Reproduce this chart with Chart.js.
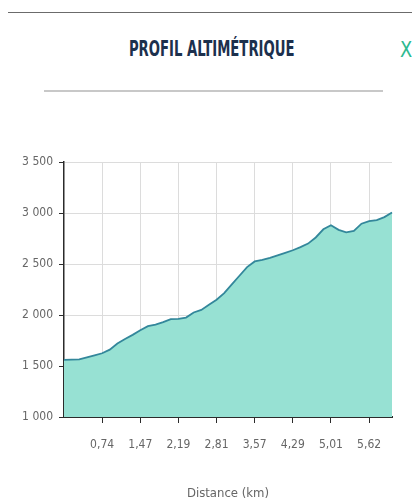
<!DOCTYPE html>
<html lang="fr">
<head>
<meta charset="utf-8">
<title>Profil altimétrique</title>
<script src="https://cdn.jsdelivr.net/npm/chart.js@4/dist/chart.umd.min.js"></script>
<style>
  html, body { margin: 0; padding: 0; background: #fff; }
  body { width: 412px; height: 504px; position: relative; overflow: hidden; }
  .topline { position: absolute; left: 8px; right: 0; top: 12px; height: 1px; background: #6b6b6b; }
  .titre {
    position: absolute; left: 0; width: 424px; top: 37px; text-align: center;
    font-family: "DejaVu Sans Condensed", "DejaVu Sans", sans-serif;
    font-weight: bold; font-size: 21px; color: #1c304d;
    transform: scaleX(0.7); transform-origin: 211px 0;
  }
  .fermer {
    position: absolute; left: 400px; top: 38px;
    font-family: "DejaVu Sans", sans-serif; font-size: 21px; color: #2db98f;
    transform: scaleX(0.85); transform-origin: 0 0;
  }
  .sep { position: absolute; left: 44px; width: 339px; top: 90px; height: 2px; background: #c8c8c8; }
  #wrap { position: absolute; left: 0; top: 0; width: 412px; height: 504px; }
</style>
</head>
<body>
<div class="topline"></div>
<div class="titre">PROFIL ALTIMÉTRIQUE</div>
<div class="fermer">X</div>
<div class="sep"></div>
<div id="wrap"><canvas id="chartProfil"></canvas></div>

<script>
// distances (km) des points du profil
const distances = [
  0.00, 0.15, 0.30, 0.44, 0.59, 0.74, 0.88, 1.03, 1.18, 1.32,
  1.47, 1.61, 1.76, 1.90, 2.05, 2.19, 2.31, 2.44, 2.56, 2.69,
  2.81, 2.96, 3.12, 3.27, 3.42, 3.57, 3.71, 3.86, 4.00, 4.15,
  4.29, 4.43, 4.58, 4.72, 4.87, 5.01, 5.13, 5.25, 5.38, 5.50,
  5.62, 5.78, 5.93, 6.08
];
// altitudes (m)
const altitudes = [
  1560, 1562, 1565, 1585, 1605, 1625, 1660, 1720, 1765, 1805,
  1850, 1890, 1905, 1930, 1960, 1962, 1975, 2025, 2050, 2100,
  2150, 2215, 2300, 2385, 2470, 2525, 2540, 2560, 2585, 2610,
  2635, 2665, 2700, 2760, 2840, 2880, 2835, 2810, 2825, 2895,
  2920, 2930, 2960, 3005
];
// graduations affichées sur l'axe des distances
const tickIndexes = [5, 10, 15, 20, 25, 30, 35, 40];
const altTicks = [1000, 1500, 2000, 2500, 3000, 3500];

const fmtKm = v => v.toFixed(2).replace(".", ",");
const fmtAlt = v => String(v).replace(/\B(?=(\d{3})+(?!\d))/g, " ");

const tickFont = { family: "'DejaVu Sans Condensed', 'DejaVu Sans', sans-serif", size: 12 };

function init() {
  const ctx = document.getElementById("chartProfil").getContext("2d");
  new Chart(ctx, {
    type: "line",
    data: {
      labels: distances.map(fmtKm),
      datasets: [{
        label: "Altitude",
        data: altitudes,
        fill: "start",
        backgroundColor: "#97e1d3",
        borderColor: "#33879b",
        borderWidth: 1.8,
        pointRadius: 0,
        tension: 0
      }]
    },
    options: {
      responsive: true,
      maintainAspectRatio: false,
      animation: false,
      layout: { padding: { top: 162, right: 20, left: 0, bottom: 0 } },
      plugins: { legend: { display: false }, tooltip: { enabled: false } },
      scales: {
        x: {
          type: "category",
          offset: false,
          afterFit: s => { s.height = 87; },
          border: { color: "#2b2b2b", width: 2 },
          grid: { color: "#dcdcdc", tickColor: "#2b2b2b", tickLength: 6, drawOnChartArea: true },
          ticks: {
            autoSkip: false, maxRotation: 0, padding: 15,
            color: "#666", font: tickFont,
            callback: (v, i) => tickIndexes.includes(i) ? fmtKm(distances[i]) : null
          },
          title: {
            display: true, text: "Distance (km)", color: "#666",
            font: { family: tickFont.family, size: 13 }, padding: { top: 0, bottom: 3 }
          }
        },
        y: {
          min: altTicks[0], max: altTicks[altTicks.length - 1],
          afterFit: s => { s.width = 64; },
          afterBuildTicks: s => { s.ticks = altTicks.map(v => ({ value: v })); },
          border: { color: "#2b2b2b", width: 1.5 },
          grid: { color: "#dcdcdc", tickColor: "#2b2b2b", tickLength: 5 },
          ticks: { color: "#666", font: tickFont, padding: 6, callback: v => fmtAlt(v) }
        }
      }
    }
  });
}

document.addEventListener("DOMContentLoaded", init);
</script>
</body>
</html>
